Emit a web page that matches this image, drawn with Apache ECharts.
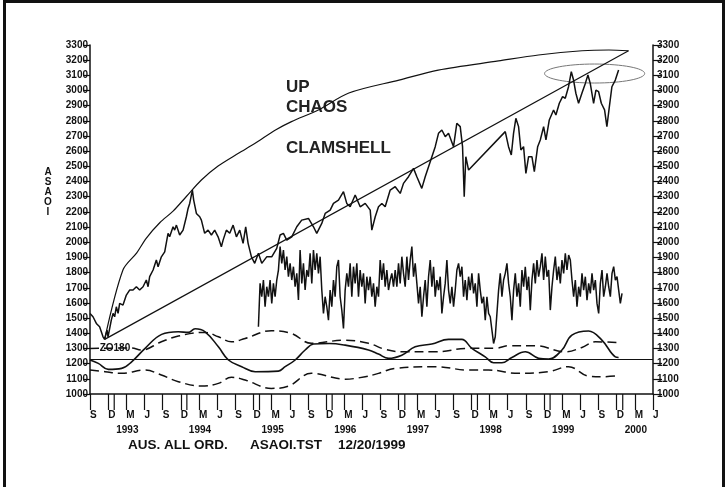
<!DOCTYPE html>
<html>
<head>
<meta charset="utf-8">
<title>AUS. ALL ORD. ASAOI.TST</title>
<script src="https://cdn.jsdelivr.net/npm/echarts@6/dist/echarts.min.js"></script>
<style>
html, body { margin: 0; padding: 0; background: #fff; }
#chart { width: 728px; height: 487px; }
</style>
</head>
<body>
<div id="chart"></div>
<script>
// x = decimal year, y = index points
const xMin = 1992 + 8 / 12;   // Sep 1992
const xMax = 2000 + 5 / 12;   // Jun 2000
const letterMonths = [2, 5, 8, 11];
const monthLetters = { 2: 'M', 5: 'J', 8: 'S', 11: 'D' };
const yearLabels = [1993, 1994, 1995, 1996, 1997, 1998, 1999, 2000];

// All Ordinaries close
const price = [
  [1992.667,1531],[1992.708,1509],[1992.754,1465],[1992.799,1443],[1992.846,1377],[1992.868,1360],
  [1992.901,1421],[1992.915,1377],[1992.960,1487],[1992.984,1531],[1993.006,1509],[1993.029,1575],
  [1993.053,1531],[1993.075,1597],[1993.121,1586],[1993.167,1652],[1993.212,1685],[1993.259,1685],
  [1993.305,1707],[1993.350,1685],[1993.397,1707],[1993.442,1751],[1993.466,1707],[1993.488,1773],
  [1993.535,1817],[1993.580,1883],[1993.604,1839],[1993.649,1904],[1993.695,1937],[1993.741,2059],
  [1993.763,2036],[1993.810,2102],[1993.832,2080],[1993.856,2113],[1993.901,2048],[1993.948,2080],
  [1993.970,2092],[1993.993,2168],[1994.017,2223],[1994.039,2256],[1994.076,2344],[1994.094,2278],
  [1994.131,2190],[1994.177,2168],[1994.200,2146],[1994.245,2059],[1994.292,2080],[1994.338,2048],
  [1994.383,2080],[1994.430,2036],[1994.475,1970],[1994.499,2014],[1994.544,2080],[1994.590,2059],
  [1994.637,2113],[1994.682,2036],[1994.728,2080],[1994.774,1993],[1994.810,2102],[1994.843,1993],
  [1994.889,1904],[1994.934,1861],[1994.985,1927],[1995.031,1861],[1995.099,1904],[1995.168,1904],
  [1995.237,1960],[1995.284,2048],[1995.329,2059],[1995.375,2014],[1995.444,2036],[1995.513,2102],
  [1995.581,2146],[1995.674,2157],[1995.743,2102],[1995.788,2059],[1995.857,2124],[1995.904,2190],
  [1995.973,2212],[1996.018,2256],[1996.087,2278],[1996.156,2333],[1996.201,2256],[1996.248,2234],
  [1996.317,2311],[1996.386,2234],[1996.455,2256],[1996.524,2212],[1996.546,2080],[1996.593,2168],
  [1996.638,2234],[1996.684,2256],[1996.730,2234],[1996.799,2344],[1996.868,2366],[1996.937,2322],
  [1996.982,2388],[1997.051,2432],[1997.120,2487],[1997.166,2432],[1997.234,2355],[1997.281,2432],
  [1997.350,2531],[1997.419,2630],[1997.464,2718],[1997.510,2740],[1997.557,2696],[1997.602,2718],
  [1997.671,2630],[1997.716,2784],[1997.763,2762],[1997.795,2630],[1997.818,2300],[1997.840,2564],
  [1997.878,2476],[1998.383,2729],[1998.428,2630],[1998.466,2575],[1998.497,2718],[1998.529,2817],
  [1998.566,2762],[1998.598,2608],[1998.635,2630],[1998.667,2454],[1998.704,2564],[1998.750,2564],
  [1998.783,2465],[1998.829,2630],[1998.865,2674],[1998.911,2762],[1998.943,2674],[1998.989,2806],
  [1999.048,2872],[1999.080,2839],[1999.127,2916],[1999.172,2960],[1999.209,2949],[1999.254,3025],
  [1999.292,3124],[1999.323,3069],[1999.355,2982],[1999.392,2916],[1999.438,2982],[1999.485,3047],
  [1999.521,3102],[1999.553,3047],[1999.599,2916],[1999.631,3003],[1999.668,2992],[1999.705,2916],
  [1999.750,2872],[1999.782,2762],[1999.816,2894],[1999.851,3025],[1999.898,3069],[1999.943,3135]
];

// chaos oscillator, plotted on the price scale from Dec 1994
const chaosStart = 1994.985;
const chaosStep = 0.02296;
const chaos = [
  1443,1729,1641,1751,1575,1707,1641,1751,1597,1729,
  1641,1751,1817,1971,1861,1949,1817,1905,1773,1861,
  1751,1839,1707,1795,1619,1949,1729,1861,1685,1817,
  1773,1927,1729,1949,1817,1927,1795,1905,1685,1531,
  1641,1575,1487,1685,1575,1751,1641,1839,1883,1641,
  1553,1432,1685,1795,1707,1861,1641,1839,1729,1861,
  1641,1817,1707,1795,1597,1773,1685,1773,1641,1729,
  1575,1707,1641,1883,1751,1861,1707,1817,1685,1751,
  1795,1707,1817,1707,1861,1729,1905,1795,1707,1905,
  1751,1883,1971,1773,1861,1729,1597,1707,1509,1641,
  1751,1575,1773,1883,1707,1839,1641,1751,1685,1773,
  1531,1641,1729,1883,1685,1597,1707,1575,1685,1817,
  1861,1773,1839,1641,1751,1619,1773,1685,1795,1663,
  1729,1575,1795,1685,1597,1641,1487,1641,1531,1509,
  1421,1333,1377,1531,1685,1795,1641,1751,1795,1861,
  1729,1641,1487,1685,1795,1641,1729,1575,1817,1707,
  1839,1685,1773,1553,1751,1861,1729,1883,1773,1839,
  1927,1751,1905,1773,1817,1553,1707,1817,1905,1751,
  1839,1729,1883,1795,1927,1817,1916,1883,1751,1641,
  1751,1575,1707,1641,1795,1685,1773,1619,1729,1663,
  1795,1685,1751,1597,1531,1729,1817,1641,1707,1795,
  1707,1641,1795,1839,1751,1773,1685,1597,1663
];

// clamshell: upper envelope and trend line from the 1992 low
const envelope = [
  [1992.868,1360],[1993.12,1817],[1993.31,1930],[1993.44,2026],[1993.63,2130],[1993.81,2205],
  [1993.99,2300],[1994.20,2410],[1994.43,2502],[1994.71,2586],[1994.94,2652],[1995.22,2740],
  [1995.44,2795],[1995.81,2872],[1996.23,2984],[1996.92,3069],[1997.46,3135],[1998.29,3195],
  [1998.84,3234],[1999.44,3262],[1999.81,3267],[2000.08,3262]
];
const trendLine = [[1992.868,1360],[2000.08,3262]];

// ZO180 band
const zoMid = [
  [1992.667,1224],[1992.781,1202],[1992.919,1162],[1993.102,1169],[1993.240,1212],[1993.425,1301],
  [1993.653,1393],[1993.883,1410],[1994.021,1406],[1994.113,1430],[1994.251,1410],[1994.434,1311],
  [1994.572,1224],[1994.755,1180],[1994.940,1147],[1995.260,1151],[1995.353,1180],[1995.491,1224],
  [1995.628,1290],[1995.743,1329],[1995.960,1333],[1996.179,1322],[1996.500,1290],[1996.638,1263],
  [1996.776,1235],[1996.959,1256],[1997.143,1311],[1997.372,1329],[1997.602,1360],[1997.785,1360],
  [1997.923,1301],[1998.107,1245],[1998.222,1206],[1998.336,1206],[1998.474,1241],[1998.659,1278],
  [1998.842,1235],[1998.980,1230],[1999.163,1290],[1999.300,1388],[1999.530,1415],[1999.713,1355],
  [1999.898,1245],[1999.943,1241]
];
const zoUpper = [
  [1992.667,1300],[1993.236,1303],[1993.373,1290],[1993.649,1344],[1993.883,1382],[1994.251,1406],
  [1994.434,1377],[1994.613,1344],[1994.802,1366],[1995.164,1417],[1995.440,1399],[1995.715,1334],
  [1996.179,1355],[1996.500,1334],[1996.730,1294],[1996.959,1278],[1997.419,1278],[1997.878,1301],
  [1998.245,1301],[1998.428,1318],[1998.796,1318],[1999.209,1278],[1999.438,1307],[1999.623,1344],
  [1999.943,1338]
];
const zoLower = [
  [1992.667,1158],[1992.873,1147],[1993.098,1136],[1993.425,1158],[1993.649,1125],[1993.883,1081],
  [1994.200,1052],[1994.434,1070],[1994.613,1110],[1994.802,1092],[1995.164,1037],[1995.398,1052],
  [1995.715,1136],[1996.179,1098],[1996.455,1114],[1996.638,1136],[1996.868,1169],[1997.419,1180],
  [1997.878,1158],[1998.153,1158],[1998.566,1136],[1998.980,1147],[1999.254,1180],[1999.530,1118],
  [1999.713,1114],[1999.943,1120]
];
const zoBase = 1230;
const zoLabelAt = [1993.01, 1300];

// top-right circled area: centre x, centre y, half width (years), half height (points)
const topCircle = [[1999.613, 3112, 0.689, 62.6]];

const ink = '#111';
const fontFamily = '"Liberation Sans", Arial, Helvetica, sans-serif';
const tickLen = 16;

// quarter ticks (Mar, Jun, Sep, Dec) carry letters; Jan ticks are drawn by a small custom series
const letterValues = [];
for (let y = 1992; y <= 2000; y++) {
  letterMonths.forEach(m => {
    const v = y + m / 12;
    if (v >= xMin - 1e-6 && v <= xMax + 1e-6) letterValues.push(v);
  });
}
const monthOf = v => Math.round((v - Math.floor(v + 1e-6)) * 12) % 12;

const chaosData = chaos.map((v, i) => [chaosStart + i * chaosStep, v]);
const janTicks = yearLabels.map(y => [y, 1000]);

const lineBase = {
  type: 'line', symbol: 'none', showSymbol: false, silent: true, animation: false,
  xAxisIndex: 0, yAxisIndex: 0
};

const yAxisBase = {
  type: 'value', min: 1000, max: 3300, interval: 100,
  axisLine: { show: true, lineStyle: { color: ink, width: 1.5 } },
  axisTick: { show: true, lineStyle: { color: ink, width: 1.2 } },
  axisLabel: { color: ink, fontSize: 10, fontWeight: 'bold', fontFamily: fontFamily,
               showMinLabel: true, showMaxLabel: true, formatter: v => String(v) },
  splitLine: { show: false }
};

const chart = echarts.init(document.getElementById('chart'), null, { renderer: 'canvas' });

const option = {
  backgroundColor: '#fff',
  animation: false,
  grid: { left: 90, right: 75, top: 45, bottom: 93 },
  xAxis: [
    {
      type: 'value', min: xMin, max: xMax, position: 'bottom',
      axisLine: { show: true, onZero: false, lineStyle: { color: ink, width: 1.5 } },
      axisTick: { show: true, length: tickLen, customValues: letterValues, lineStyle: { color: ink, width: 1.2 } },
      axisLabel: {
        customValues: letterValues, formatter: v => monthLetters[monthOf(v)] || '',
        align: 'left', margin: 16, color: ink, fontSize: 10, fontWeight: 'bold', fontFamily: fontFamily
      },
      splitLine: { show: false }
    },
    {
      type: 'value', min: xMin, max: xMax, position: 'bottom',
      axisLine: { show: false, onZero: false },
      axisTick: { show: false },
      axisLabel: {
        customValues: yearLabels, formatter: v => String(Math.round(v)),
        align: 'left', padding: [0, 0, 0, 2], margin: 31, color: ink, fontSize: 10,
        fontWeight: 'bold', fontFamily: fontFamily
      },
      splitLine: { show: false }
    }
  ],
  yAxis: [
    Object.assign({}, yAxisBase, {
      position: 'left',
      axisTick: Object.assign({}, yAxisBase.axisTick, { length: 7 }),
      axisLabel: Object.assign({}, yAxisBase.axisLabel, { margin: 2 })
    }),
    Object.assign({}, yAxisBase, {
      position: 'right',
      axisTick: Object.assign({}, yAxisBase.axisTick, { length: 9 }),
      axisLabel: Object.assign({}, yAxisBase.axisLabel, { margin: 4 })
    })
  ],
  graphic: [
    { type: 'rect', z: 100, silent: true,
      shape: { x: 4.5, y: 1.5, width: 719, height: 530 },
      style: { fill: 'none', stroke: ink, lineWidth: 3 } },
    { type: 'text', z: 0, x: 48, y: 192, silent: true,
      style: { text: 'A\nS\nA\nO\nI', align: 'center', verticalAlign: 'middle', lineHeight: 10,
               font: 'bold 10px ' + fontFamily, fill: ink } },
    { type: 'text', z: 0, x: 286, y: 87, silent: true,
      style: { text: 'UP', verticalAlign: 'middle', font: 'bold 17px ' + fontFamily, fill: '#222' } },
    { type: 'text', z: 0, x: 286, y: 107, silent: true,
      style: { text: 'CHAOS', verticalAlign: 'middle', font: 'bold 17px ' + fontFamily, fill: '#222' } },
    { type: 'text', z: 0, x: 286, y: 148, silent: true,
      style: { text: 'CLAMSHELL', verticalAlign: 'middle', font: 'bold 17px ' + fontFamily, fill: '#222' } },
    { type: 'text', z: 0, x: 128, y: 445, silent: true,
      style: { text: 'AUS. ALL ORD.', verticalAlign: 'middle', font: 'bold 13.5px ' + fontFamily, fill: ink } },
    { type: 'text', z: 0, x: 250, y: 445, silent: true,
      style: { text: 'ASAOI.TST', verticalAlign: 'middle', font: 'bold 13.5px ' + fontFamily, fill: ink } },
    { type: 'text', z: 0, x: 338, y: 445, silent: true,
      style: { text: '12/20/1999', verticalAlign: 'middle', font: 'bold 13.5px ' + fontFamily, fill: ink } }
  ],
  series: [
    Object.assign({}, lineBase, {
      name: 'ASAOI', data: price, z: 5,
      lineStyle: { color: ink, width: 1.5 }
    }),
    Object.assign({}, lineBase, {
      name: 'Chaos', data: chaosData, z: 5,
      lineStyle: { color: ink, width: 1.5 }
    }),
    Object.assign({}, lineBase, {
      name: 'Envelope', data: envelope, smooth: 0.3, z: 6,
      lineStyle: { color: ink, width: 1.2 }
    }),
    Object.assign({}, lineBase, {
      name: 'Trend', data: trendLine, z: 6,
      lineStyle: { color: ink, width: 1.2 },
      markLine: {
        silent: true, symbol: 'none', animation: false, label: { show: false },
        lineStyle: { color: ink, width: 1.2, type: 'solid' },
        data: [{ yAxis: zoBase }]
      }
    }),
    Object.assign({}, lineBase, {
      name: 'ZO mid', data: zoMid, smooth: 0.4, z: 5,
      lineStyle: { color: ink, width: 1.6 }
    }),
    Object.assign({}, lineBase, {
      name: 'ZO upper', data: zoUpper, smooth: 0.4, z: 5,
      lineStyle: { color: ink, width: 1.5, type: [9, 5] },
      markPoint: {
        silent: true, animation: false, symbol: 'rect', symbolSize: 1,
        itemStyle: { color: 'rgba(0,0,0,0)' },
        label: { show: true, position: 'inside', formatter: 'ZO180', color: ink, fontSize: 10,
                 fontWeight: 'bold', fontFamily: fontFamily, backgroundColor: '#fff', padding: [1, 2] },
        data: [{ coord: zoLabelAt }]
      }
    }),
    Object.assign({}, lineBase, {
      name: 'ZO lower', data: zoLower, smooth: 0.4, z: 5,
      lineStyle: { color: ink, width: 1.5, type: [9, 5] }
    }),
    {
      type: 'custom', name: 'Circle', data: topCircle, silent: true, clip: false, z: 4,
      encode: { x: 0, y: 1 },
      renderItem: function (params, api) {
        const c = api.coord([api.value(0), api.value(1)]);
        const s = api.size([api.value(2), api.value(3)]);
        return {
          type: 'ellipse',
          shape: { cx: c[0], cy: c[1], rx: s[0], ry: s[1] },
          style: { fill: 'none', stroke: '#777', lineWidth: 1 }
        };
      }
    },
    {
      // January ticks under the time axis (second line of each D pair)
      type: 'custom', name: 'JanTicks', data: janTicks, silent: true, clip: false, z: 4,
      encode: { x: 0, y: 1 },
      renderItem: function (params, api) {
        const c = api.coord([api.value(0), api.value(1)]);
        return {
          type: 'line',
          shape: { x1: c[0], y1: c[1], x2: c[0], y2: c[1] + tickLen },
          style: { stroke: ink, lineWidth: 1.2 }
        };
      }
    }
  ]
};

chart.setOption(option);
</script>
</body>
</html>
